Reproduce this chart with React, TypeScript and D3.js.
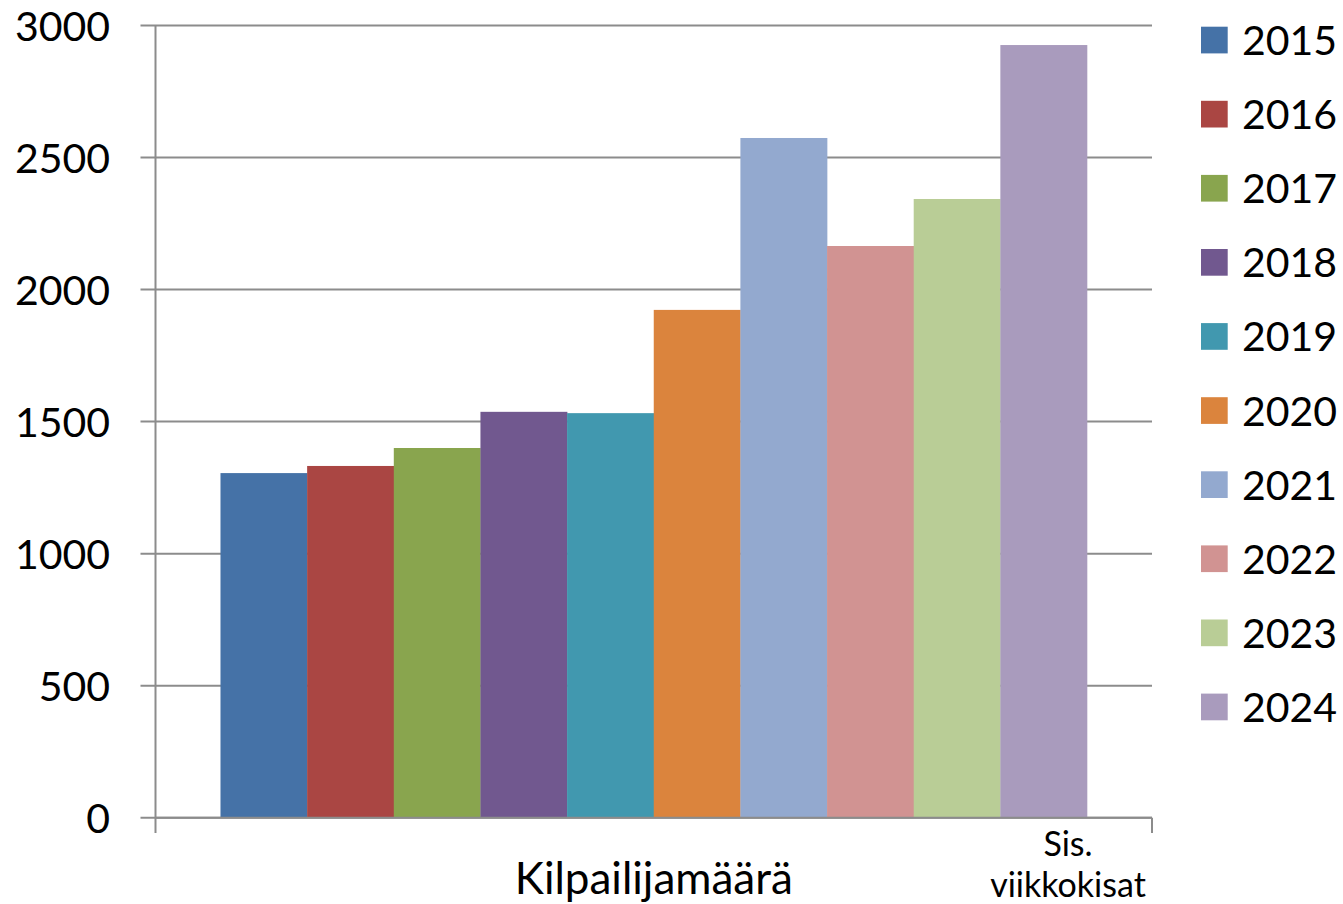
import * as d3 from "d3";

const category = "Kilpailijamäärä";
const years = ["2015", "2016", "2017", "2018", "2019", "2020", "2021", "2022", "2023", "2024"];
const values = [1305, 1332, 1400, 1537, 1532, 1923, 2574, 2165, 2343, 2926];
const colors = ["#4572A7", "#AA4643", "#89A54E", "#71588F", "#4198AF", "#DB843D", "#93A9CF", "#D19392", "#B9CD96", "#A99BBD"];
const yTicks = [0, 500, 1000, 1500, 2000, 2500, 3000];
const note = ["Sis.", "viikkokisat"];

const width = 1343;
const height = 904;
const plotLeft = 155.5;
const plotRight = 1152;
const plotTop = 25.5;
const plotBottom = 817.7;
const font = "Lato, 'Open Sans', sans-serif";

export default function App() {
  const y = d3.scaleLinear([0, 3000], [plotBottom, plotTop]);
  const x0 = d3.scaleBand([category], [plotLeft, plotRight]);
  const x1 = d3
    .scaleBand(years, [0, x0.bandwidth()])
    .paddingInner(0)
    .paddingOuter(0.75);
  const color = d3.scaleOrdinal(years, colors);
  const axisColor = "#8c8c8c";

  return (
    <svg
      width={width}
      height={height}
      style={{ position: "absolute", left: 0, top: 0, background: "#fff" }}
      fontFamily={font}
    >
      {/* gridlines + y ticks */}
      <g>
        {yTicks.map((t) => (
          <g key={t}>
            <line x1={140.5} x2={plotRight} y1={y(t)} y2={y(t)} stroke={axisColor} strokeWidth={2} />
            <text x={110} y={y(t) + 15} textAnchor="end" fontSize={41} fill="#000">
              {t}
            </text>
          </g>
        ))}
      </g>
      <line x1={plotLeft} x2={plotLeft} y1={plotTop} y2={833} stroke={axisColor} strokeWidth={2} />
      <line x1={plotRight} x2={plotRight} y1={plotBottom} y2={833} stroke={axisColor} strokeWidth={2} />

      {/* bars */}
      <g transform={`translate(${x0(category)},0)`}>
        {years.map((yr, i) => (
          <rect
            key={yr}
            x={x1(yr)}
            y={y(values[i])}
            width={x1.bandwidth() + 0.3}
            height={y(0) - y(values[i])}
            fill={color(yr)}
          />
        ))}
      </g>
      <line x1={plotLeft} x2={plotRight} y1={plotBottom} y2={plotBottom} stroke={axisColor} strokeWidth={2} />

      {/* category label */}
      <text
        x={(x0(category) ?? 0) + x0.bandwidth() / 2}
        y={894}
        textAnchor="middle"
        fontSize={44}
        fill="#000"
      >
        {category}
      </text>
      <text x={1068} y={856} textAnchor="middle" fontSize={34} fill="#000">
        {note[0]}
      </text>
      <text x={1068} y={897} textAnchor="middle" fontSize={34} fill="#000">
        {note[1]}
      </text>

      {/* legend */}
      <g>
        {years.map((yr, i) => {
          const cy = 40 + i * 74.1;
          return (
            <g key={yr}>
              <rect x={1201} y={cy - 13.3} width={26.7} height={26.7} fill={color(yr)} />
              <text x={1242} y={cy + 15} fontSize={41} fill="#000">
                {yr}
              </text>
            </g>
          );
        })}
      </g>
    </svg>
  );
}
